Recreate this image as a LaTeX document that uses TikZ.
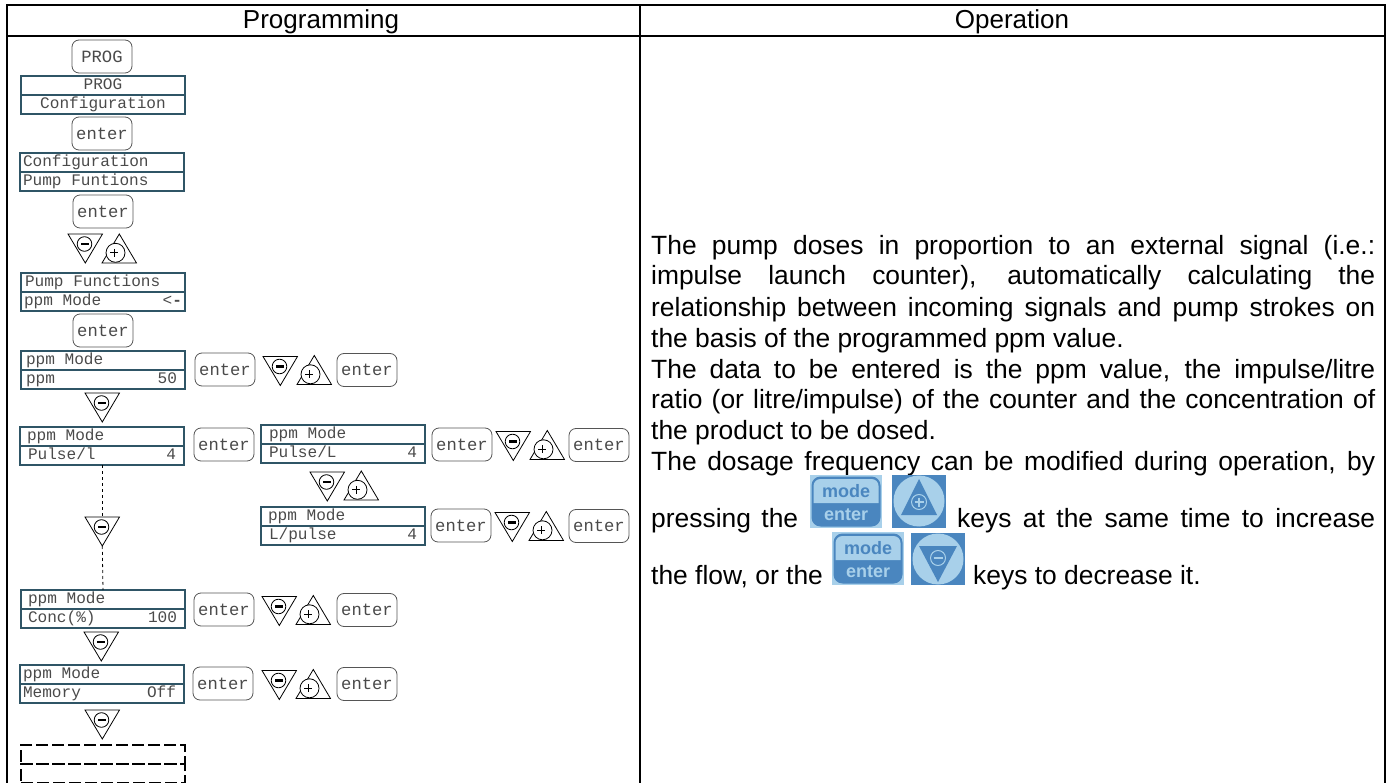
\documentclass[tikz,border=0pt]{standalone}
\usepackage{fontspec}
\setmainfont{Liberation Sans}
\newfontfamily\panelfont{Liberation Mono}
\usetikzlibrary{positioning}
\definecolor{paneledge}{HTML}{2F5566}
\definecolor{paneltext}{HTML}{4A4A4A}
\definecolor{keyedge}{HTML}{555555}
\definecolor{iconblue}{HTML}{4A86BF}
\definecolor{iconpale}{HTML}{A8D0EA}
% one line of a display: left inset, text on the left, text on the right
\newcommand{\rowtext}[3]{\hbox to \linewidth{\spaceskip=.6em\relax\hspace{#1pt}#2\hfil #3\hspace{8pt}}}
\tikzset{
  panel/.style={
    % The shape:
    rectangle,
    minimum width=164pt,
    minimum height=19pt,
    inner sep=0pt,outer sep=0pt,
    text width=164pt,
    % The border:
    draw=paneledge,
    line width=1.1pt,
    % Font
    text=paneltext,
    font=\panelfont\fontsize{16.1}{17}\selectfont,
    text height=1.75ex,text depth=.25ex},
  ghostpanel/.style={panel,draw=black,line width=1.5pt,dash pattern=on 12pt off 4pt},
  keybtn/.style={
    rectangle,
    rounded corners=7pt,
    minimum width=60pt,
    minimum height=33pt,
    inner sep=0pt,outer sep=0pt,
    draw=keyedge,line width=.8pt,
    text=paneltext,
    font=\panelfont\fontsize{17.2}{18}\selectfont},
  headcell/.style={anchor=base,font=\fontsize{26}{30}\selectfont,inner sep=0pt},
  bodyline/.style={anchor=base west,inner sep=0pt,font=\fontsize{26.4}{30}\selectfont},
  minuskey/.pic={
    \draw[line width=.8pt] (0,0) -- (34.5,0) -- (17.3,29) -- cycle;
    \draw[line width=.8pt,fill=white] (16.5,10) circle (7.3);
    \fill (12.5,8.8) rectangle (20.5,11.4);
    \coordinate (-top) at (17,0);
    \coordinate (-tip) at (17.3,29);
  },
  pluskey/.pic={
    \draw[line width=.8pt] (17.3,0) -- (34.5,29) -- (0,29) -- cycle;
    \draw[line width=.8pt,fill=white] (13.5,18.8) circle (9.5);
    \draw[line width=1pt] (8,18.8) -- (16,18.8) (12,14.8) -- (12,22.8);
  },
  modeicon/.pic={
    \fill[iconpale] (0,0) rectangle (72,53);
    \fill[iconblue,rounded corners=9pt] (1.5,1.5) rectangle (70.5,51.5);
    \fill[iconpale] (3.5,28) {[rounded corners=7pt] -- (3.5,4) -- (68.5,4)} -- (68.5,28) -- cycle;
    \node (-mode) [text=iconblue,inner sep=0pt,font=\bfseries\fontsize{18}{18}\selectfont] at (36,16) {mode};
    \node (-enter) [text=iconpale,inner sep=0pt,font=\bfseries\fontsize{18}{18}\selectfont] at (36,40) {enter};
  },
  upicon/.pic={
    \fill[iconblue] (0,0) rectangle (54,53);
    \fill[iconpale] (27,26) circle (25.5);
    \fill[iconblue] (27,4) -- (45,40) -- (9,40) -- cycle;
    \draw[iconpale,line width=1pt] (27,27) circle (7.5);
    \draw[iconpale,line width=1.2pt] (22.5,27) -- (31.5,27) (27,22.5) -- (27,31.5);
  },
  downicon/.pic={
    \fill[iconblue] (0,0) rectangle (54,52);
    \fill[iconpale] (27,26) circle (25.5);
    \fill[iconblue] (27,49) -- (46,13) -- (8,13) -- cycle;
    \draw[iconpale,line width=1pt] (27,25) circle (7.5);
    \draw[iconpale,line width=1.4pt] (22.5,25) -- (31.5,25);
  }
}

\begin{document}
\begin{tikzpicture}[x=1pt,y=-1pt,stem/.style={dashed,line width=.8pt}]
  \useasboundingbox (0,0) rectangle (1390,783);

  % the table
  \draw[line width=2pt] (6.5,783) -- (6.5,5) -- (1385,5) -- (1385,783);
  \draw[line width=2pt] (6.5,36) -- (1385,36);
  \draw[line width=2pt] (640,5) -- (640,783);
  \node (headprog) [headcell] at (321,29) {Programming};
  \node (headoper) [headcell] at (1012,29) {Operation};

  % left column, top to bottom
  \node (btnprog) [keybtn,anchor=north west] at (72,40) {PROG};
  \node (dp1a) [panel,anchor=north west,align=center] at (21,76) {PROG};
  \node (dp1b) [panel,below=0pt of dp1a,align=center] {Configuration};
  \node (btnen1) [keybtn,anchor=north west] at (72,117) {enter};
  \node (dp2a) [panel,anchor=north west] at (20,153) {\rowtext{3}{Configuration}{}};
  \node (dp2b) [panel,below=0pt of dp2a] {\rowtext{3}{Pump Funtions}{}};
  \node (btnen2) [keybtn,anchor=north west] at (73,195) {enter};
  \draw pic (mn1) at (68,234) {minuskey};
  \draw pic (pl1) at (102,234) {pluskey};
  \node (dp3a) [panel,anchor=north west] at (21,273) {\rowtext{4}{Pump Functions}{}};
  \node (dp3b) [panel,below=0pt of dp3a] {\rowtext{3}{ppm Mode}{<\textbf{-}\kern-5pt}};
  \node (btnen3) [keybtn,anchor=north west] at (73,314) {enter};
  \node (dp4a) [panel,anchor=north west] at (21,351) {\rowtext{5}{ppm Mode}{}};
  \node (dp4b) [panel,below=0pt of dp4a] {\rowtext{5}{ppm}{50}};
  \draw pic (mn2) at (85,393) {minuskey};
  \node (dp5a) [panel,anchor=north west] at (20,427) {\rowtext{7}{ppm Mode}{}};
  \node (dp5b) [panel,below=0pt of dp5a] {\rowtext{8}{Pulse/l}{4}};
  \draw pic (mn3) at (85,517) {minuskey};
  \node (dp6a) [panel,anchor=north west] at (21,590) {\rowtext{7}{ppm Mode}{}};
  \node (dp6b) [panel,below=0pt of dp6a] {\rowtext{7}{Conc(\%)}{100}};
  \draw pic (mn4) at (84,632) {minuskey};
  \node (dp7a) [panel,anchor=north west] at (20,665) {\rowtext{3}{ppm Mode}{}};
  \node (dp7b) [panel,below=0pt of dp7a] {\rowtext{3}{Memory}{Off}};
  \draw pic (mn5) at (85,710) {minuskey};
  \node (dp8a) [ghostpanel,anchor=north west] at (21,745) {};
  \node (dp8b) [ghostpanel,below=0pt of dp8a] {};

  \draw[stem] (dp5b.south) -- (mn3-top);
  \draw[stem] (mn3-tip) -- (dp6a.north);

  % middle column
  \node (dp9a) [panel,anchor=north west] at (261,425) {\rowtext{8}{ppm Mode}{}};
  \node (dp9b) [panel,below=0pt of dp9a] {\rowtext{8}{Pulse/L}{4}};
  \draw pic (mn6) at (310,472) {minuskey};
  \draw pic (pl6) at (344,471) {pluskey};
  \node (dp10a) [panel,anchor=north west] at (261,507) {\rowtext{7}{ppm Mode}{}};
  \node (dp10b) [panel,below=0pt of dp10a] {\rowtext{8}{L/pulse}{4}};
  \node (btnen4) [keybtn,anchor=north west] at (194,428) {enter};

  % enter, minus, plus, enter to the right of a display
  \foreach \rw/\ea/\ma/\pa/\eb/\ey in {a/195/263/297/337/353,b/432/496/530/569/428,
                                       c/431/495/529/569/509,d/194/262/296/337/593,
                                       e/193/262/296/337/667}{
    \node (enl\rw) [keybtn,anchor=north west] at (\ea,\ey) {enter};
    \draw pic (mnr\rw) at (\ma,\ey+3.5) {minuskey};
    \draw pic (plr\rw) at (\pa,\ey+2.5) {pluskey};
    \node (enr\rw) [keybtn,anchor=north west] at (\eb,\ey+.5) {enter};
  }

  % right column
  \node (txt1) [bodyline] at (651,254.5) {\makebox[724pt][s]{The pump doses in proportion to an external signal (i.e.:}};
  \node (txt2) [bodyline] at (651,285) {\makebox[724pt][s]{impulse launch counter), automatically calculating the}};
  \node (txt3) [bodyline] at (651,316.5) {\makebox[724pt][s]{relationship between incoming signals and pump strokes on}};
  \node (txt4) [bodyline] at (651,347.5) {the basis of the programmed ppm value.};
  \node (txt5) [bodyline] at (651,378.5) {\makebox[724pt][s]{The data to be entered is the ppm value, the impulse/litre}};
  \node (txt6) [bodyline] at (651,409) {\makebox[724pt][s]{ratio (or litre/impulse) of the counter and the concentration of}};
  \node (txt7) [bodyline] at (651,440) {the product to be dosed.};
  \node (txt8) [bodyline] at (651,471) {\makebox[724pt][s]{The dosage frequency can be modified during operation, by}};
  \node (txt9a) [bodyline] at (651,527) {\makebox[147pt][s]{pressing the}};
  \node (txt9b) [bodyline] at (957,527) {\makebox[418pt][s]{keys at the same time to increase}};
  \node (txt10a) [bodyline] at (651,584) {the flow, or the};
  \node (txt10b) [bodyline] at (973,584) {keys to decrease it.};

  \draw pic (icmode1) at (810,475) {modeicon};
  \draw pic (icup) at (892,475) {upicon};
  \draw pic (icmode2) at (832,532) {modeicon};
  \draw pic (icdown) at (911,533) {downicon};
\end{tikzpicture}
\end{document}
